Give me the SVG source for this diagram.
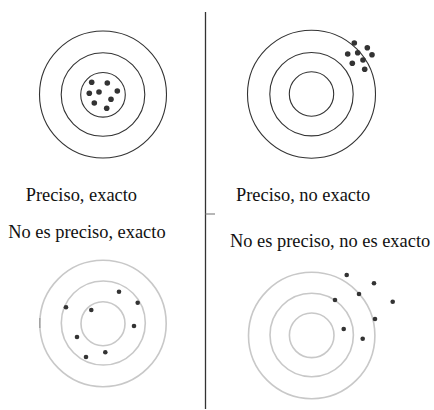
<svg xmlns="http://www.w3.org/2000/svg" width="434" height="410" viewBox="0 0 434 410">
<style>
.ring{fill:none;stroke:#333;stroke-width:1.1}
.ringl{fill:none;stroke:#c8c8c8;stroke-width:1.6}
.dot{fill:#333}
.dots{fill:#333}
.mark{stroke:#999;stroke-width:1.2}
.lbl{font-family:"Liberation Serif","Times New Roman",serif;font-size:18.4px;fill:#111}
</style>
<rect width="434" height="410" fill="#fff"/>
<g id="connectors">
<line x1="205.5" y1="12" x2="205.5" y2="409" stroke="#333" stroke-width="1.3"/>
<line x1="205.5" y1="214" x2="215" y2="214" stroke="#888" stroke-width="1.2"/>
</g>
<g id="target-precise-exact">
<circle class="ring" cx="103" cy="94.5" r="63.5"/>
<circle class="ring" cx="103" cy="94.5" r="41.8"/>
<circle class="ring" cx="103" cy="94.8" r="22.3"/>
<circle class="dot" cx="91.7" cy="82.3" r="2.8"/>
<circle class="dot" cx="107.3" cy="83" r="2.8"/>
<circle class="dot" cx="89.3" cy="93.3" r="2.8"/>
<circle class="dot" cx="99" cy="92" r="2.8"/>
<circle class="dot" cx="117.3" cy="91" r="2.8"/>
<circle class="dot" cx="94.3" cy="103" r="2.8"/>
<circle class="dot" cx="111" cy="99.3" r="2.8"/>
<circle class="dot" cx="106.7" cy="108.3" r="2.8"/>
</g>
<g id="target-precise-not-exact">
<circle class="ring" cx="311.5" cy="94.2" r="64"/>
<circle class="ring" cx="311.5" cy="94.2" r="41.7"/>
<circle class="ring" cx="311.5" cy="94" r="22.2"/>
<circle class="dot" cx="354.3" cy="43" r="2.8"/>
<circle class="dot" cx="367.3" cy="47.7" r="2.8"/>
<circle class="dot" cx="347.7" cy="54" r="2.8"/>
<circle class="dot" cx="357.7" cy="52.7" r="2.8"/>
<circle class="dot" cx="372" cy="54.7" r="2.8"/>
<circle class="dot" cx="352.3" cy="63.3" r="2.8"/>
<circle class="dot" cx="363" cy="60" r="2.8"/>
<circle class="dot" cx="364.7" cy="69.3" r="2.8"/>
</g>
<g id="label-precise-exact"><text class="lbl" x="25.7" y="200.8">Preciso, exacto</text></g>
<g id="label-precise-not-exact"><text class="lbl" x="236" y="200.8">Preciso, no exacto</text></g>
<g id="label-not-precise-exact"><text class="lbl" x="8.3" y="238">No es preciso, exacto</text></g>
<g id="label-not-precise-not-exact"><text class="lbl" x="230" y="246.5">No es preciso, no es exacto</text></g>
<g id="target-not-precise-exact">
<circle class="ringl" cx="103" cy="323.5" r="63.2"/>
<circle class="ringl" cx="103.3" cy="323" r="42"/>
<circle class="ringl" cx="103" cy="323.7" r="22"/>
<line class="mark" x1="39.8" y1="318" x2="39.8" y2="328"/>
<circle class="dots" cx="119" cy="291.7" r="2.3"/>
<circle class="dots" cx="137.7" cy="302.7" r="2.3"/>
<circle class="dots" cx="66" cy="307.3" r="2.3"/>
<circle class="dots" cx="91.3" cy="310" r="2.3"/>
<circle class="dots" cx="134" cy="326" r="2.3"/>
<circle class="dots" cx="77" cy="337" r="2.3"/>
<circle class="dots" cx="105.3" cy="352.3" r="2.3"/>
<circle class="dots" cx="86" cy="357" r="2.3"/>
</g>
<g id="target-not-precise-not-exact">
<circle class="ringl" cx="311.7" cy="335.5" r="63.2"/>
<circle class="ringl" cx="311.7" cy="335" r="41.7"/>
<circle class="ringl" cx="311.7" cy="335.3" r="22.3"/>
<circle class="dots" cx="346.7" cy="275" r="2.3"/>
<circle class="dots" cx="374" cy="283.3" r="2.3"/>
<circle class="dots" cx="359" cy="294" r="2.3"/>
<circle class="dots" cx="335" cy="300" r="2.3"/>
<circle class="dots" cx="392.7" cy="301.7" r="2.3"/>
<circle class="dots" cx="375" cy="319" r="2.3"/>
<circle class="dots" cx="343.7" cy="329" r="2.3"/>
<circle class="dots" cx="362.7" cy="338.7" r="2.3"/>
</g>
</svg>
